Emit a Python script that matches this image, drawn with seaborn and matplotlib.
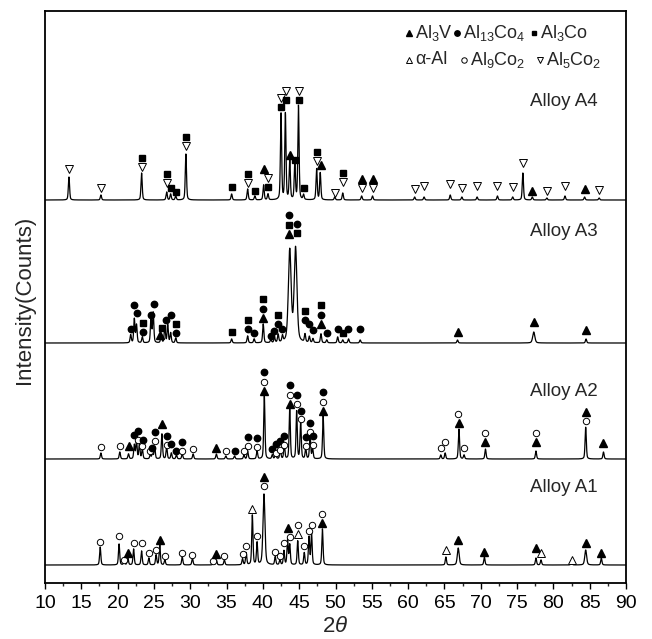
import numpy as np
import pandas as pd
import matplotlib
matplotlib.use('Agg')
import matplotlib.pyplot as plt
from matplotlib.ticker import MultipleLocator
import seaborn as sns

# 2-theta grid the patterns are drawn on
two_theta = np.arange(10, 90.0001, 0.02)

# Peak lists: (2theta, height in px above the pattern baseline[, fwhm])
a4_peaks = [(13.3, 23), (17.7, 5), (23.3, 27), (26.75, 8), (27.3, 6), (28.0, 4), (29.4, 46),
            (35.7, 6), (37.9, 11), (38.9, 4), (40.1, 15), (40.7, 6), (42.5, 86), (43.1, 86),
            (43.7, 40), (44.4, 36), (44.9, 94), (45.6, 5), (47.4, 31), (47.9, 27), (49.9, 3),
            (51.0, 7), (53.6, 4), (55.1, 4), (60.9, 3), (62.2, 3), (65.8, 5), (67.4, 3),
            (69.5, 3), (72.3, 4), (74.4, 3), (75.8, 27), (77.1, 3), (79.1, 2), (81.6, 4),
            (84.3, 3), (86.3, 2)]
a3_peaks = [(21.8, 8), (22.3, 24), (22.6, 18), (23.4, 6), (24.6, 26), (24.9, 30), (26.0, 8),
            (26.5, 16), (26.9, 18), (27.3, 10), (28.0, 5), (35.7, 4), (37.9, 7), (38.8, 4),
            (40.05, 19), (41.1, 3), (41.6, 5), (42.1, 8), (42.7, 6), (43.7, 92, 0.45),
            (44.5, 94, 0.45), (45.8, 8), (46.4, 6), (46.9, 4), (48.0, 9), (48.8, 3), (50.3, 6),
            (51.0, 3), (51.8, 4), (53.4, 3), (66.8, 3), (77.3, 11, 0.35), (84.5, 4)]
a2_peaks = [(17.7, 6), (20.3, 7), (21.5, 5), (22.3, 14), (22.6, 18), (23.0, 15), (23.4, 10),
            (24.5, 4), (24.8, 6), (25.1, 12), (26.1, 25), (26.75, 12), (27.4, 6), (28.1, 4),
            (28.9, 5), (30.4, 5), (33.6, 5), (34.9, 3), (36.1, 3), (37.4, 4), (37.9, 8),
            (39.2, 8), (40.2, 63), (41.3, 4), (41.75, 6), (42.4, 10), (42.95, 14), (43.7, 50),
            (44.65, 48), (45.2, 38), (45.9, 10), (46.5, 24), (46.85, 10), (48.3, 43), (64.5, 4),
            (65.1, 6), (67.0, 30), (67.7, 4), (70.65, 10), (77.6, 8), (84.45, 32), (86.9, 7)]
a1_peaks = [(17.6, 18), (20.2, 21), (20.9, 4), (21.4, 8), (22.2, 16), (23.3, 14), (24.3, 7),
            (25.3, 10), (25.8, 20), (26.5, 5), (28.9, 8), (30.3, 7), (33.2, 3), (33.6, 5),
            (34.7, 5), (37.2, 6), (37.7, 12), (38.55, 50), (39.2, 22), (40.15, 71, 0.32),
            (41.7, 8), (42.35, 5), (42.9, 14), (43.4, 25), (43.7, 20), (44.8, 24), (45.7, 12),
            (46.35, 28), (46.7, 32), (48.2, 36), (65.2, 8), (66.9, 17, 0.3), (70.5, 8),
            (77.6, 7), (78.3, 5), (82.5, 3), (84.45, 15, 0.3), (86.6, 7)]

# Phase marks: (2theta, height of the lowest mark above baseline, marks from bottom to top)
# T=Al3V  C=Al13Co4  S=Al3Co  t=alpha-Al  o=Al9Co2  v=Al5Co2
a4_marks = [(13.3, 31, 'v'), (17.7, 12, 'v'), (23.3, 33, 'vS'), (26.75, 17, 'vS'),
            (27.3, 12, 'S'), (28.0, 8, 'S'), (29.4, 54, 'vS'), (35.7, 13, 'S'), (37.9, 17, 'vS'),
            (38.9, 9, 'S'), (40.15, 31, 'T'), (40.75, 13, 'Sv'), (42.5, 93, 'Sv'),
            (43.15, 100, 'Sv'), (43.75, 45, 'T'), (44.4, 40, 'S'), (44.95, 100, 'Sv'),
            (45.6, 12, 'S'), (47.4, 39, 'vS'), (48.0, 35, 'T'), (49.9, 7, 'v'), (51.0, 18, 'vS'),
            (53.6, 12, 'vT'), (55.1, 12, 'vT'), (60.9, 11, 'v'), (62.2, 14, 'v'), (65.8, 16, 'v'),
            (67.4, 12, 'v'), (69.5, 14, 'v'), (72.3, 14, 'v'), (74.4, 13, 'v'), (75.8, 37, 'v'),
            (77.1, 9, 'T'), (79.1, 9, 'v'), (81.6, 14, 'v'), (84.3, 11, 'T'), (86.3, 10, 'v')]
a3_marks = [(21.85, 14, 'C'), (22.3, 38, 'C'), (22.6, 30, 'C'), (23.45, 11, 'CS'),
            (24.6, 28, 'C'), (25.05, 39, 'C'), (25.9, 8, 'T'), (26.1, 15, 'S'), (26.6, 23, 'C'),
            (27.3, 28, 'C'), (28.1, 10, 'CS'), (35.8, 11, 'S'), (38.0, 14, 'CS'), (38.8, 10, 'C'),
            (40.05, 25, 'TCS'), (41.1, 7, 'C'), (41.6, 12, 'C'), (42.1, 19, 'CS'), (42.7, 14, 'C'),
            (43.65, 109, 'TSC'), (44.75, 110, 'SC'), (45.8, 23, 'CS'), (46.4, 19, 'C'),
            (46.95, 13, 'C'), (48.0, 19, 'TCS'), (48.8, 10, 'C'), (50.3, 14, 'C'),
            (51.1, 10, 'S'), (51.75, 14, 'C'), (53.4, 14, 'C'), (66.8, 11, 'T'), (77.3, 21, 'T'),
            (84.5, 13, 'T')]
a2_marks = [(17.7, 12, 'o'), (20.3, 13, 'o'), (21.5, 13, 'T'), (22.3, 24, 'C'), (22.85, 19, 'oC'),
            (23.4, 13, 'o'), (23.45, 19, 'C'), (24.5, 8, 'o'), (24.8, 11, 'C'), (25.1, 18, 'oC'),
            (26.1, 35, 'T'), (26.75, 14, 'oC'), (27.4, 15, 'C'), (28.1, 8, 'C'), (28.9, 8, 'oC'),
            (30.4, 10, 'o'), (33.6, 11, 'T'), (34.9, 8, 'o'), (36.1, 8, 'C'), (37.4, 8, 'o'),
            (37.9, 13, 'oC'), (39.2, 12, 'oC'), (40.2, 68, 'ToC'), (41.3, 10, 'C'),
            (41.75, 6, 'oC'), (42.4, 9, 'oC'), (42.95, 14, 'oC'), (43.7, 55, 'ToC'),
            (44.7, 55, 'oC'), (45.25, 40, 'o'), (45.25, 48, 'C'), (45.9, 13, 'oC'),
            (46.5, 27, 'oC'), (46.85, 14, 'oC'), (48.3, 48, 'ToC'), (64.5, 11, 'o'),
            (65.1, 17, 'o'), (67.0, 36, 'T'), (66.85, 45, 'o'), (67.7, 11, 'o'), (70.65, 17, 'To'),
            (77.6, 17, 'To'), (84.45, 38, 'oT'), (86.9, 16, 'T')]
a1_marks = [(17.6, 23, 'o'), (20.2, 29, 'o'), (20.9, 5, 'o'), (21.4, 12, 'T'), (22.2, 22, 'o'),
            (23.3, 22, 'o'), (24.3, 12, 'o'), (25.3, 15, 'o'), (25.8, 25, 'T'), (26.5, 9, 'o'),
            (28.9, 12, 'o'), (30.3, 10, 'o'), (33.2, 4, 'o'), (33.6, 11, 'T'), (34.7, 9, 'o'),
            (37.2, 11, 'o'), (37.7, 19, 'o'), (38.55, 56, 't'), (39.2, 29, 'o'), (40.15, 79, 'oT'),
            (41.7, 13, 'o'), (42.35, 9, 'o'), (42.9, 22, 'o'), (43.4, 37, 'T'), (43.7, 28, 'o'),
            (44.8, 31, 'to'), (45.7, 19, 'o'), (46.35, 34, 'o'), (46.7, 40, 'o'), (48.2, 42, 'To'),
            (65.2, 15, 't'), (66.9, 25, 'T'), (70.5, 13, 'T'), (77.6, 17, 'T'), (78.3, 12, 't'),
            (82.5, 5, 't'), (84.45, 22, 'T'), (86.6, 12, 'T')]

alloy_names = ['Alloy A4', 'Alloy A3', 'Alloy A2', 'Alloy A1']
baselines = [383, 240, 124, 18]
label_heights = [482, 351, 191, 95]

legend_row1 = [('T', 'Al$_3$V'), ('C', 'Al$_{13}$Co$_4$'), ('S', 'Al$_3$Co')]
legend_row2 = [('t', 'α-Al'), ('o', 'Al$_9$Co$_2$'), ('v', 'Al$_5$Co$_2$')]

# marker look for every phase symbol
MARKERS = {
    'T': dict(marker='^', ms=5.2, mfc='black', mec='black'),
    'C': dict(marker='o', ms=4.6, mfc='black', mec='black'),
    'S': dict(marker='s', ms=4.0, mfc='black', mec='black'),
    't': dict(marker='^', ms=5.2, mfc='white', mec='black', mew=0.7),
    'o': dict(marker='o', ms=4.6, mfc='white', mec='black', mew=0.7),
    'v': dict(marker='v', ms=5.2, mfc='white', mec='black', mew=0.7),
}
STACK = 9.5


def pattern(peaks):
    y = np.zeros_like(two_theta)
    for p in peaks:
        x0, h = p[0], p[1]
        w = p[2] if len(p) > 2 else 0.2
        d = (two_theta - x0) / w
        y += h * (0.6 * np.exp(-4 * np.log(2) * d ** 2) + 0.4 / (1 + 4 * d ** 2))
    return y


sns.set_theme(style='ticks')
plt.rcParams['font.family'] = ['Liberation Sans', 'DejaVu Sans']
plt.rcParams['mathtext.fontset'] = 'custom'
plt.rcParams['mathtext.rm'] = 'Liberation Sans'
plt.rcParams['mathtext.it'] = 'Liberation Sans:italic'
plt.rcParams['mathtext.default'] = 'regular'

fig = plt.figure(figsize=(6.52, 6.39), dpi=100)
ax = fig.add_axes([45 / 652, 1 - 583 / 639, 581 / 652, 572 / 639])

all_peaks = [a4_peaks, a3_peaks, a2_peaks, a1_peaks]
all_marks = [a4_marks, a3_marks, a2_marks, a1_marks]

for name, base, peaks in zip(alloy_names, baselines, all_peaks):
    df = pd.DataFrame({'two_theta': two_theta, 'intensity': base + pattern(peaks)})
    sns.lineplot(data=df, x='two_theta', y='intensity', ax=ax, color='black',
                 lw=0.9, estimator=None, sort=False)

for base, marks in zip(baselines, all_marks):
    for x0, h, syms in marks:
        for i, s in enumerate(syms):
            ax.plot([x0], [base + h + i * STACK], ls='none', **MARKERS[s])

for name, h in zip(alloy_names, label_heights):
    ax.text(86.1, h, name, ha='right', va='center', fontsize=13.5)

# legend block in the top right corner
row1_pos = [(409, 415), (457, 463), (534, 540)]
row2_pos = [(409, 415), (464, 470), (540, 546)]
for row, positions, py in [(legend_row1, row1_pos, 33), (legend_row2, row2_pos, 60)]:
    for (sym, label), (mx, tx) in zip(row, positions):
        yy = 583 - py
        ax.plot([10 + (mx - 45) / 7.2625], [yy], ls='none',
                **{**MARKERS[sym], 'ms': MARKERS[sym]['ms'] * 0.85})
        ax.text(10 + (tx - 45) / 7.2625, yy, label, ha='left', va='center', fontsize=13)

ax.set_xlim(10, 90)
ax.set_ylim(0, 572)
ax.xaxis.set_major_locator(MultipleLocator(5))
ax.xaxis.set_minor_locator(MultipleLocator(2.5))
ax.set_yticks([])
ax.tick_params(axis='x', which='major', direction='out', length=4.5, width=1.0,
               labelsize=14, pad=4, colors='black')
ax.tick_params(axis='x', which='minor', direction='out', length=2.5, width=1.0)
for sp in ax.spines.values():
    sp.set_linewidth(1.3)
    sp.set_color('black')

ax.set_xlabel(r'2$\mathit{\theta}$', fontsize=16)
ax.xaxis.set_label_coords(0.5, -0.058)
ax.set_ylabel('Intensity(Counts)', fontsize=16)
ax.yaxis.set_label_coords(-0.018, 0.495)

fig.savefig('out.png', dpi=100)
